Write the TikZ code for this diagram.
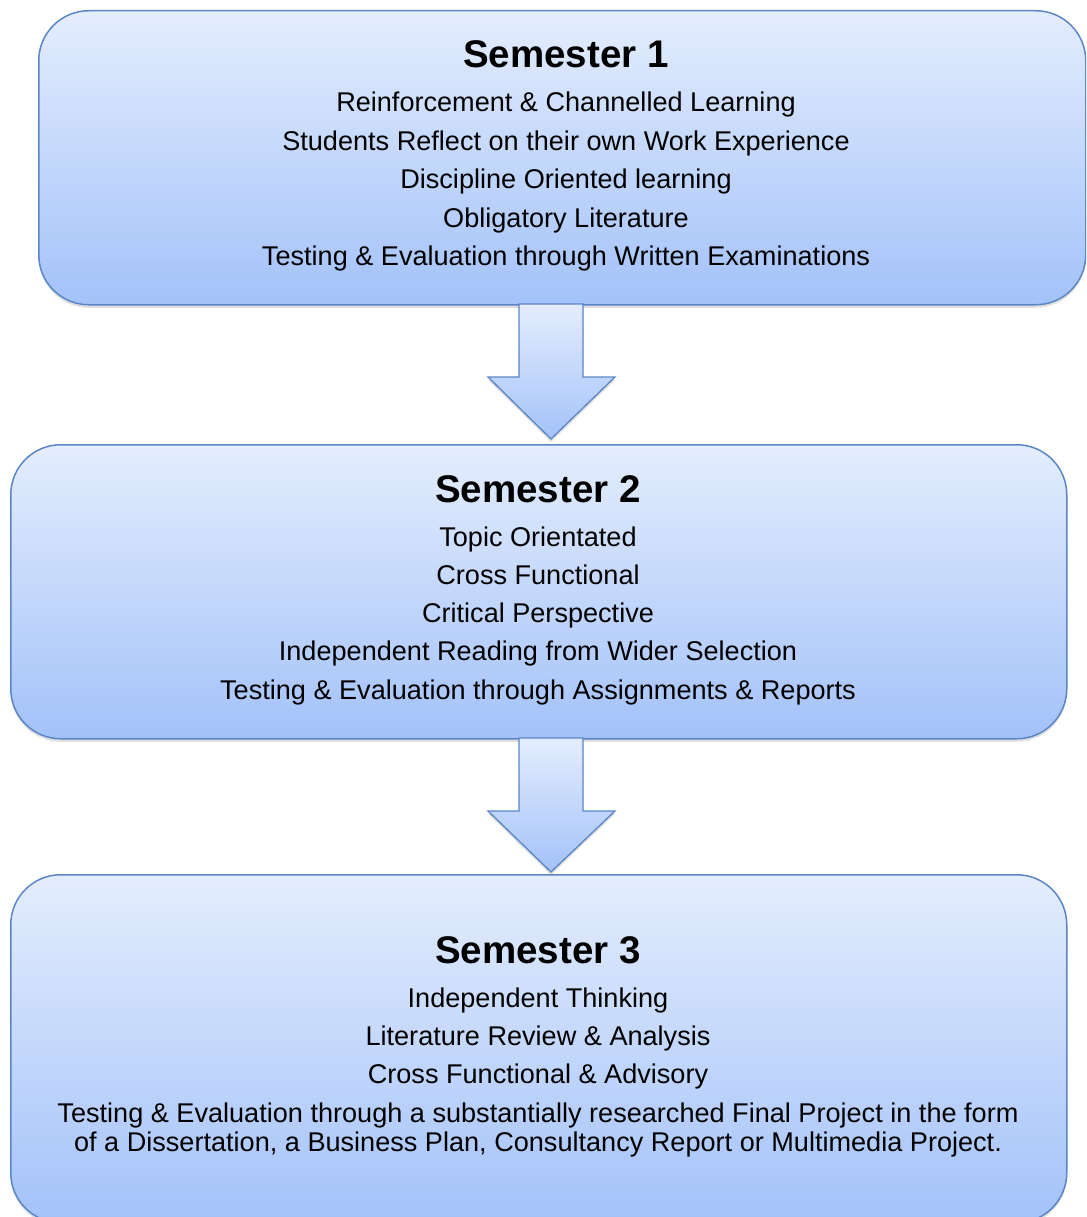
\documentclass[tikz,border=0pt]{standalone}
\usepackage{fontspec}
\setmainfont{Liberation Sans}
\usetikzlibrary{shadows}
\definecolor{boxtop}{RGB}{228,237,253}
\definecolor{boxbot}{RGB}{163,194,249}
\definecolor{boxline}{RGB}{90,134,198}
\begin{document}
\begin{tikzpicture}[x=1pt,y=-1pt,
  semester/.style={draw=boxline, line width=1.5pt, rounded corners=50pt,
    top color=boxtop, bottom color=boxbot, inner sep=0pt, anchor=north west,
    drop shadow={opacity=0.25, shadow xshift=0pt, shadow yshift=-3pt}},
  blockarrow/.style={draw=boxline, line width=1.3pt, line join=miter,
    top color=boxtop, bottom color=boxbot,
    drop shadow={opacity=0.25, shadow xshift=0pt, shadow yshift=-3pt}},
  titletext/.style={anchor=base, inner sep=0pt, font=\fontsize{38.5}{44}\selectfont\bfseries},
  bodytext/.style={anchor=base, inner sep=0pt, font=\fontsize{27.1}{32}\selectfont}]
\useasboundingbox (0,0) rectangle (1086,1217);
\clip (0,0) rectangle (1086,1217);
\fill[white] (0,0) rectangle (1086,1217);

% boxes
\node[semester, minimum width=1047pt, minimum height=294pt] (b1) at (38,10) {};
\node[semester, minimum width=1056pt, minimum height=294pt] (b2) at (10,444) {};
\node[semester, minimum width=1056pt, minimum height=348pt] (b3) at (10,874) {};

% block arrows between boxes
\coordinate (a1top) at (551,304);
\coordinate (a1tip) at (551,439);
\draw[blockarrow] (519,304) -- (583,304) -- (583,377) -- (615,377) -- (a1tip)
  -- (488,377) -- (519,377) -- cycle;
\coordinate (a2top) at (551,738);
\coordinate (a2tip) at (551,872);
\draw[blockarrow] (519,738) -- (583,738) -- (583,811) -- (615,811) -- (a2tip)
  -- (488,811) -- (519,811) -- cycle;

% Semester 1 text
\node[titletext] (s1t) at (566,68) {Semester 1};
\node[bodytext] (s1a) at (566,112) {Reinforcement \& Channelled Learning};
\node[bodytext] (s1b) at (566,150.5) {Students Reflect on their own Work Experience};
\node[bodytext] (s1c) at (566,189) {Discipline Oriented learning};
\node[bodytext] (s1d) at (566,227) {Obligatory Literature};
\node[bodytext] (s1e) at (566,265) {Testing \& Evaluation through Written Examinations};

% Semester 2 text
\node[titletext] (s2t) at (538,502) {Semester 2};
\node[bodytext] (s2a) at (538,546) {Topic Orientated};
\node[bodytext] (s2b) at (538,584) {Cross Functional};
\node[bodytext] (s2c) at (538,622) {Critical Perspective};
\node[bodytext] (s2d) at (538,660.5) {Independent Reading from Wider Selection};
\node[bodytext] (s2e) at (538,699) {Testing \& Evaluation through Assignments \& Reports};

% Semester 3 text
\node[titletext] (s3t) at (538,963) {Semester 3};
\node[bodytext] (s3a) at (538,1007) {Independent Thinking};
\node[bodytext] (s3b) at (538,1045) {Literature Review \& Analysis};
\node[bodytext] (s3c) at (538,1083) {Cross Functional \& Advisory};
\node[bodytext] (s3d) at (538,1122) {Testing \& Evaluation through a substantially researched Final Project in the form};
\node[bodytext] (s3e) at (538,1151) {of a Dissertation, a Business Plan, Consultancy Report or Multimedia Project.};
\end{tikzpicture}
\end{document}
